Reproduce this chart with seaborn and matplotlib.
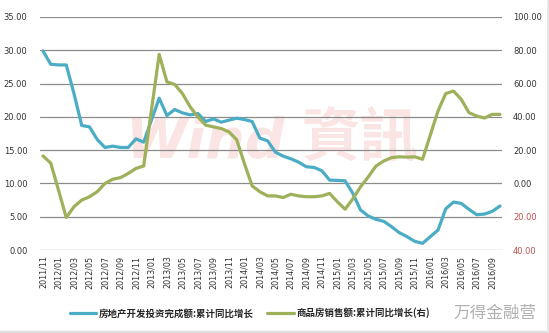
import matplotlib
matplotlib.use("Agg")
import matplotlib.pyplot as plt
import seaborn as sns
import pandas as pd
import numpy as np
from matplotlib.lines import Line2D

# ---- data (monthly, 2011/11 .. 2016/10) ----
invest_yoy = [29.9, 27.9, 27.8, 27.8, 23.5, 18.7, 18.5, 16.6, 15.4, 15.6,
              15.4, 15.4, 16.7, 16.2, 19.5, 22.8, 20.2, 21.1, 20.6, 20.3,
              20.5, 19.3, 19.7, 19.2, 19.5, 19.8, 19.6, 19.3, 16.8, 16.4,
              14.7, 14.1, 13.7, 13.2, 12.5, 12.4, 11.9, 10.5, 10.45, 10.4,
              8.5, 6.0, 5.1, 4.6, 4.3, 3.5, 2.6, 2.0, 1.3, 1.0,
              2.0, 3.0, 6.2, 7.2, 7.0, 6.1, 5.3, 5.4, 5.8, 6.6]
sales_yoy = [16.5, 12.2, -4.0, -20.5, -14.0, -10.0, -8.0, -5.0, 0.0, 2.5,
             3.5, 6.0, 9.0, 10.5, 44.0, 77.5, 61.0, 59.5, 54.0, 46.0,
             40.0, 35.0, 34.0, 33.0, 31.0, 26.3, 12.0, -1.5, -5.0, -7.5,
             -7.5, -8.5, -6.5, -7.5, -8.0, -8.0, -7.5, -6.0, -11.0, -15.5,
             -9.3, -2.0, 4.0, 10.5, 13.5, 15.5, 16.0, 15.8, 16.0, 14.5,
             29.0, 43.6, 54.0, 55.5, 50.5, 42.5, 40.5, 39.3, 41.5, 41.5]
tick_labels = ["2011/11", "2012/01", "2012/03", "2012/05", "2012/07", "2012/09",
               "2012/11", "2013/01", "2013/03", "2013/05", "2013/07", "2013/09",
               "2013/11", "2014/01", "2014/03", "2014/05", "2014/07", "2014/09",
               "2014/11", "2015/01", "2015/03", "2015/05", "2015/07", "2015/09",
               "2015/11", "2016/01", "2016/03", "2016/05", "2016/07", "2016/09"]
left_ticks = [0, 5, 10, 15, 20, 25, 30, 35]
right_ticks = [-40, -20, 0, 20, 40, 60, 80, 100]
series_names = ["房地产开发投资完成额:累计同比增长", "商品房销售额:累计同比增长(右)"]

df = pd.DataFrame({"idx": np.arange(len(invest_yoy)),
                   "invest": invest_yoy, "sales": sales_yoy})

sns.set_theme(style="white")
plt.rcParams['font.family'] = ['DejaVu Sans', 'Noto Sans CJK SC']

BLUE = "#4BACC6"
GREEN = "#9DB05A"
W, H = 549, 333
fig = plt.figure(figsize=(W / 100, H / 100), dpi=100)
fig.patch.set_facecolor("white")
ax = fig.add_axes([40 / W, 1 - 250 / H, (502 - 40) / W, (250 - 17) / H])
ax.set_facecolor("white")
ax2 = ax.twinx()
ax2.set_facecolor("none")

# faint watermark behind the lines
PINK = "#FBE4E4"
ax.text(205 / W, 1 - 142 / H, "Wind", fontsize=40, color=PINK, transform=fig.transFigure,
        fontstyle="italic", fontweight="bold", ha="center", va="center", zorder=0)
ax.text(360 / W, 1 - 140 / H, "資訊", fontsize=42, color=PINK, transform=fig.transFigure,
        family=["Noto Sans CJK TC"], fontweight="bold", ha="center", va="center", zorder=0)

sns.lineplot(data=df, x="idx", y="invest", ax=ax, color=BLUE, linewidth=2.3, zorder=5)
sns.lineplot(data=df, x="idx", y="sales", ax=ax2, color=GREEN, linewidth=2.3, zorder=5)

xl = (-3 / 7.746, 59 + 2 / 7.746)
ax.set_xlim(*xl)
ax.set_ylim(0, 35)
ax2.set_ylim(-40, 100)
ax.set_xlabel("")
ax.set_ylabel("")
ax2.set_ylabel("")

for s in ["top", "right", "left", "bottom"]:
    ax.spines[s].set_visible(False)
    ax2.spines[s].set_visible(False)

ax.set_yticks(left_ticks)
ax.set_yticklabels([f"{v:.2f}" for v in left_ticks], fontsize=6, color="#333333")
ax2.set_yticks(right_ticks)
ax2.set_yticklabels([f"{abs(v):.2f}" for v in right_ticks], fontsize=6)
for lab, v in zip(ax2.get_yticklabels(), right_ticks):
    lab.set_color("#C0504D" if v < 0 else "#333333")
ax.grid(False)
ax2.grid(False)
for v in left_ticks:
    ax.axhline(v, color="#8C8C8C", linewidth=0.9, zorder=1)

ax.set_xticks(np.arange(0, 60, 2))
ax.set_xticklabels(tick_labels, rotation=90, fontsize=5.8, color="#333333")
ax.tick_params(axis="x", length=0, pad=4)
ax.tick_params(axis="y", length=0, pad=9)
ax2.tick_params(axis="y", length=0, pad=8)

handles = [Line2D([0], [0], color=BLUE, linewidth=2.3),
           Line2D([0], [0], color=GREEN, linewidth=2.3)]
fig.legend(handles, series_names, loc="center", bbox_to_anchor=(250 / W, 1 - 313 / H),
           ncol=2, frameon=False, handlelength=2.8, columnspacing=1.4, handletextpad=0.3,
           prop={"family": ["Noto Sans CJK SC"], "size": 6.8, "weight": "bold"})

fig.text(495 / W, 1 - 313 / H, "万得金融营", fontsize=12, color="#A8A8A8",
         family=["Noto Sans CJK SC"], ha="center", va="center", alpha=0.9)

# light border at bottom / right
fig.add_artist(Line2D([0, 1], [1.5 / H, 1.5 / H], color="#DDDDDD", linewidth=2.5))
fig.add_artist(Line2D([1 - 1.5 / W, 1 - 1.5 / W], [0, 1], color="#E6E6E6", linewidth=2.0))

fig.savefig("out.png", dpi=100)
